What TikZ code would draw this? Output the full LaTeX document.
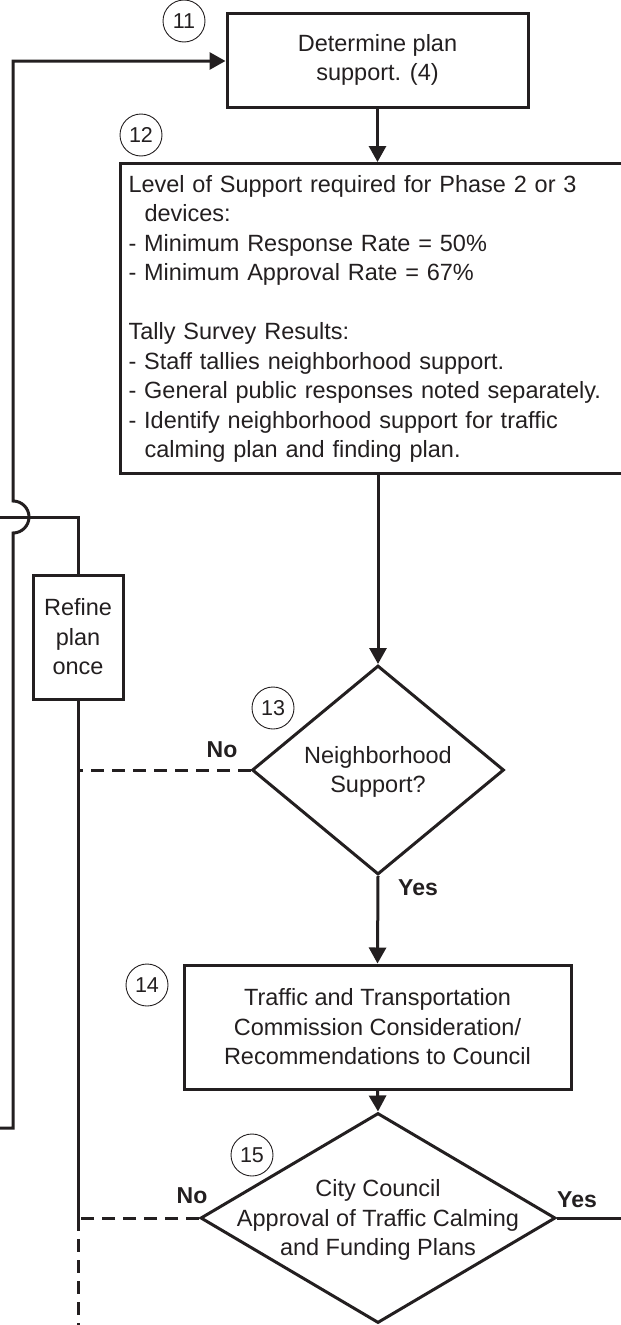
\documentclass[tikz,border=0pt]{standalone}
\usepackage{fontspec}
\setmainfont{Liberation Sans}
\usetikzlibrary{arrows.meta,shapes.geometric}
\definecolor{ink}{RGB}{35,31,32}
\begin{document}
\begin{tikzpicture}[x=1pt,y=-1pt,
  every node/.style={text=ink, font=\fontsize{23.5}{29.5}\selectfont},
  box/.style={draw=ink, line width=3pt, align=center, inner sep=0pt},
  dia/.style={draw=ink, line width=3pt, diamond, inner sep=0pt},
  num/.style={draw=ink, circle, line width=0.9pt, minimum size=42pt, inner sep=0pt, font=\fontsize{21.5}{24}\selectfont},
  lab/.style={font=\fontsize{23}{26}\selectfont\bfseries},
  conn/.style={draw=ink, line width=3pt},
  arr/.style={conn, -{Triangle[length=16pt,width=17pt]}},
  dsh/.style={conn, dash pattern=on 13pt off 8pt},
]
\useasboundingbox (0,0) rectangle (621,1325);
\clip (0,0) rectangle (621,1325);

% boxes
\node[box, minimum width=301pt, minimum height=94pt] (b11) at (377.5,60) {Determine plan\\support. (4)};
\node[draw=ink, line width=3pt, anchor=north west, text width=505pt, inner xsep=8pt, inner ysep=11.5pt, align=left] (b12) at (119,162)
  {Level of Support required for Phase 2 or 3\\
   \hspace*{16pt}devices:\\
   - Minimum Response Rate = 50\%\\
   - Minimum Approval Rate = 67\%\\
   \mbox{}\\
   Tally Survey Results:\\
   - Staff tallies neighborhood support.\\
   - General public responses noted separately.\\
   - Identify neighborhood support for traffic\\
   \hspace*{16pt}calming plan and finding plan.};
\node[dia, minimum width=252pt, minimum height=209pt] (d13) at (378,770) {};
\node[align=center] (d13t) at (378,772) {Neighborhood\\Support?};
\node[box, minimum width=387pt, minimum height=124pt] (b14) at (377.5,1027) {Traffic and Transportation\\Commission Consideration/\\Recommendations to Council};
\node[dia, minimum width=355pt, minimum height=210pt] (d15) at (378,1218) {};
\node[align=center] (d15t) at (378,1220) {City Council\\Approval of Traffic Calming\\and Funding Plans};
\node[box, minimum width=90pt, minimum height=124pt] (refine) at (78,637) {Refine\\plan\\once};

% step numbers
\node[num] (c11) at (184,21) {11};
\node[num] (c12) at (141,135) {12};
\node[num] (c13) at (273,708) {13};
\node[num] (c14) at (147,985) {14};
\node[num] (c15) at (252,1155) {15};

% branch labels
\node[lab] (no13) at (222,750) {No};
\node[lab] (yes13) at (418,888) {Yes};
\node[lab] (no15) at (192,1196) {No};
\node[lab] (yes15) at (577,1200) {Yes};

% coordinates
\coordinate (j13) at (78,770);
\coordinate (j15) at (78,1218);
\coordinate (bot) at (78,1335);
\coordinate (rtop) at (78,517);
\coordinate (lhop) at (-5,517);
\coordinate (yesend) at (630,1218);
\coordinate (lb) at (-5,1128);
\coordinate (lc) at (13,1128);
\coordinate (lt) at (13,61);

% connectors
\draw[arr] (b11.south) -- (b11.south |- b12.north);
\draw[arr] (b12.south -| d13.north) -- (d13.north);
\draw[arr] (d13.south) -- (b14.north);
\draw[arr] (b14.south) -- (d15.north);
\draw[dsh] (d13.west) -- (j13);
\draw[dsh] (d15.west) -- (j15);
\draw[conn] (j15) -- (refine.south);
\draw[dsh] (j15) -- (bot);
\draw[conn] (refine.north) -- (rtop) -- (lhop);
\draw[conn] (d15.east) -- (yesend);
\draw[arr] (lb) -- (lc) -- (13,533) arc[start angle=90, end angle=-90, radius=16] -- (lt) -- (lt -| b11.west);
\end{tikzpicture}
\end{document}
